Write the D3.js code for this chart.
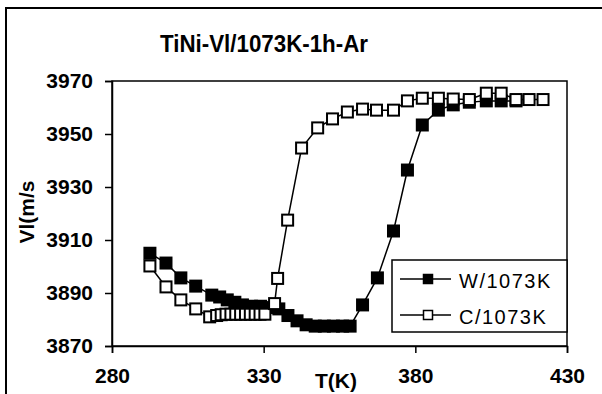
<!DOCTYPE html>
<html>
<head>
<meta charset="utf-8">
<script src="https://cdn.jsdelivr.net/npm/d3@7"></script>
<style>
  body { margin: 0; background: #fff; }
  svg { display: block; font-family: "Liberation Sans", Arial, sans-serif; }
</style>
</head>
<body>
<svg></svg>
<script>
// data
const wTemp = [292.5, 297.8, 302.7, 307.6, 312.9, 315.5, 318, 320.5, 323, 326, 329, 332, 335, 338, 341,
  344, 347, 350, 353, 356, 358.5, 362.6, 367.5, 372.8, 377.4, 382.3, 387.6, 392.5, 397.8, 403.4, 408.3, 413.2];
const wVel = [3905, 3901.3, 3895.7, 3892.6, 3889.2, 3888.5, 3887.4, 3886.5, 3885.5, 3885, 3885, 3884.5, 3884, 3881.5, 3879.5,
  3878, 3877.5, 3877.5, 3877.5, 3877.5, 3877.5, 3885.5, 3895.7, 3913.4, 3936.4, 3953.4, 3959, 3961, 3962, 3962.5, 3962.5, 3962.5];

const cTemp = [292.5, 297.8, 302.7, 307.6, 312.2, 314.5, 316, 317.6, 319.2, 320.8, 322.4, 324, 325.6, 327.2, 328.8, 330.4,
  333.6, 334.6, 337.9, 342.5, 347.8, 352.7, 357.6, 362.6, 367.2, 372.8, 377.4, 382.3, 387.6, 392.5, 397.8, 403.4, 408.3,
  413.2, 417.5, 422.1];
const cVel = [3900.2, 3892.3, 3887.4, 3884, 3881, 3881.5, 3881.8, 3882, 3882, 3882, 3882, 3882, 3882, 3882, 3882, 3882,
  3886, 3895.5, 3917.5, 3944.7, 3952.3, 3955.7, 3958.3, 3959.4, 3959, 3959, 3962.5, 3963.5, 3963.5, 3963.2, 3963, 3965.4, 3965.4,
  3963, 3963, 3963];

const xTicks = [280, 330, 380, 430];
const yTicks = [3870, 3890, 3910, 3930, 3950, 3970];
const seriesNames = ['W/1073K', 'C/1073K'];
const title = 'TiNi-Vl/1073K-1h-Ar';

// layout
let config = { svg: {}, plot: {} };
config.svg.width = 602;
config.svg.height = 394;
config.plot.left = 112;
config.plot.right = 567;
config.plot.top = 81;
config.plot.bottom = 346;

let svg = d3.select('svg')
  .attr('width', config.svg.width)
  .attr('height', config.svg.height);

// outer frame (runs off the right and bottom edges)
svg.append('rect')
  .attr('x', 6).attr('y', 8)
  .attr('width', 640).attr('height', 440)
  .attr('fill', 'none').attr('stroke', '#000').attr('stroke-width', 2);

let x = d3.scaleLinear().domain([280, 430]).range([config.plot.left, config.plot.right]);
let y = d3.scaleLinear().domain([3870, 3970]).range([config.plot.bottom, config.plot.top]);

// plot frame
svg.append('rect')
  .attr('x', config.plot.left).attr('y', config.plot.top)
  .attr('width', config.plot.right - config.plot.left)
  .attr('height', config.plot.bottom - config.plot.top)
  .attr('fill', 'none').attr('stroke', '#000').attr('stroke-width', 1.5);

// axes
let xAxis = svg.append('g')
  .attr('transform', `translate(0,${config.plot.bottom})`)
  .call(d3.axisBottom(x).tickValues(xTicks).tickSize(7).tickFormat(d3.format('d')));
let yAxis = svg.append('g')
  .attr('transform', `translate(${config.plot.left},0)`)
  .call(d3.axisLeft(y).tickValues(yTicks).tickSize(7).tickFormat(d3.format('d')));

[xAxis, yAxis].forEach(g => {
  g.select('.domain').attr('stroke', '#000').attr('stroke-width', 1.5);
  g.selectAll('.tick line').attr('stroke', '#000').attr('stroke-width', 1.5);
  g.selectAll('.tick text')
    .attr('fill', '#000')
    .style('font-family', '"Liberation Sans", Arial, sans-serif')
    .style('font-size', '21px')
    .style('font-weight', 'bold');
});
xAxis.selectAll('.tick text').attr('y', 22);
yAxis.selectAll('.tick text').attr('x', -19);

// title and axis titles
svg.append('text')
  .attr('x', 264).attr('y', 52)
  .attr('text-anchor', 'middle')
  .attr('textLength', 208).attr('lengthAdjust', 'spacingAndGlyphs')
  .style('font-size', '23px').style('font-weight', 'bold')
  .text(title);

svg.append('text')
  .attr('x', 336).attr('y', 388)
  .attr('text-anchor', 'middle')
  .style('font-size', '21px').style('font-weight', 'bold')
  .text('T(K)');

svg.append('text')
  .attr('transform', 'translate(34,212) rotate(-90)')
  .attr('text-anchor', 'middle')
  .style('font-size', '21px').style('font-weight', 'bold')
  .text('Vl(m/s');

// series
const line = d3.line().x(d => x(d[0])).y(d => y(d[1]));
const wData = d3.zip(wTemp, wVel);
const cData = d3.zip(cTemp, cVel);
const size = 11;

function drawSeries(data, fill) {
  let g = svg.append('g');
  g.append('path')
    .attr('d', line(data))
    .attr('fill', 'none').attr('stroke', '#000').attr('stroke-width', 1.5);
  g.selectAll('rect').data(data).join('rect')
    .attr('x', d => x(d[0]) - size / 2)
    .attr('y', d => y(d[1]) - size / 2)
    .attr('width', size).attr('height', size)
    .attr('fill', fill).attr('stroke', '#000').attr('stroke-width', 2);
}
drawSeries(wData, '#000');
drawSeries(cData, '#fff');

// legend
let legend = svg.append('g');
legend.append('rect')
  .attr('x', 392).attr('y', 260)
  .attr('width', config.plot.right - 392).attr('height', 72)
  .attr('fill', '#fff').attr('stroke', '#000').attr('stroke-width', 1.5);

const legendRows = [279, 315];
const legendFill = ['#000', '#fff'];
seriesNames.forEach((name, i) => {
  let ly = legendRows[i];
  legend.append('line')
    .attr('x1', 400).attr('x2', 451).attr('y1', ly).attr('y2', ly)
    .attr('stroke', '#000').attr('stroke-width', 1.5);
  legend.append('rect')
    .attr('x', 428 - 4.5).attr('y', ly - 4.5)
    .attr('width', 9).attr('height', 9)
    .attr('fill', legendFill[i]).attr('stroke', '#000').attr('stroke-width', 1.5);
  legend.append('text')
    .attr('x', 459).attr('y', ly + 9)
    .style('font-size', '20px')
    .style('letter-spacing', '1.5px')
    .text(name);
});
</script>
</body>
</html>
